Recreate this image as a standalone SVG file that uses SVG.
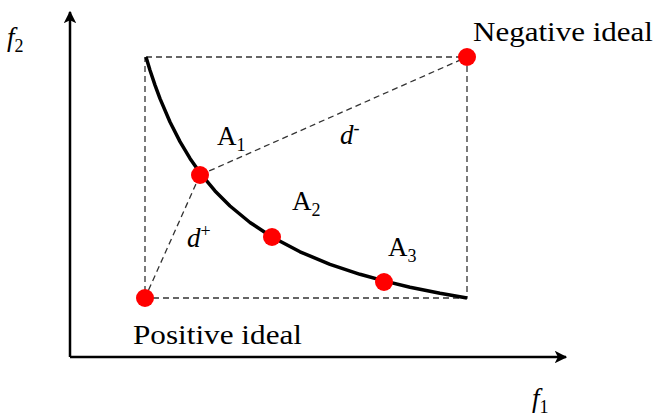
<svg xmlns="http://www.w3.org/2000/svg" width="657" height="418" viewBox="0 0 657 418">
<style>
text{font-family:"Liberation Serif","Times New Roman",serif;fill:#000}
.lbl{font-size:27px}
.it{font-style:italic}
.sub{font-size:18px}
.dash{fill:none;stroke:#333;stroke-width:1.3;stroke-dasharray:6 4}
.axis{fill:none;stroke:#000;stroke-width:2.5}
.pt{fill:#ff0000}
</style>
<defs>
<marker id="arr" viewBox="0 0 10 10" refX="9" refY="5" markerWidth="5" markerHeight="5" orient="auto" markerUnits="strokeWidth">
<path d="M0,0 L10,5 L0,10 L2.5,5 z" fill="#000"/>
</marker>
</defs>
<rect width="657" height="418" fill="#fff"/>
<g id="axes">
<line class="axis" x1="70" y1="357" x2="70" y2="12" marker-end="url(#arr)"/>
<line class="axis" x1="70" y1="357" x2="566" y2="357" marker-end="url(#arr)"/>
<text x="7" y="46" class="lbl it" font-size="30">f<tspan class="sub" font-style="normal" font-size="20" dy="6">2</tspan></text>
<text x="532" y="407" class="lbl it" font-size="30">f<tspan class="sub" font-style="normal" font-size="20" dy="6">1</tspan></text>
</g>
<g id="connectors">
<polyline class="dash" points="146,57 467,57 467,298 145,298 145,57"/>
<line class="dash" x1="200" y1="175" x2="467" y2="57"/>
<line class="dash" x1="200" y1="175" x2="145" y2="298"/>
</g>
<g id="front">
<path d="M146,57 L150,70.2 L155,85.1 L160,98.6 L170,122 L180,141.6 L190,158.4 L200,172.8 L215,190.9 L230,206 L250,222.5 L272,237 L300,251.8 L330,264.3 L360,274.3 L384,280.9 L410,287.2 L440,293.3 L467,298" fill="none" stroke="#000" stroke-width="3.5" stroke-linejoin="round"/>
</g>
<g id="negative-ideal">
<circle class="pt" cx="467" cy="57" r="9"/>
<text x="473" y="41" class="lbl" textLength="180" lengthAdjust="spacingAndGlyphs">Negative ideal</text>
</g>
<g id="positive-ideal">
<circle class="pt" cx="145" cy="298" r="9"/>
<text x="133" y="344" class="lbl" textLength="169" lengthAdjust="spacingAndGlyphs">Positive ideal</text>
</g>
<g id="A1">
<circle class="pt" cx="200" cy="175" r="9"/>
<text x="217" y="145" class="lbl">A<tspan class="sub" dy="6">1</tspan></text>
</g>
<g id="A2">
<circle class="pt" cx="272" cy="237" r="9"/>
<text x="292" y="210" class="lbl">A<tspan class="sub" dy="6">2</tspan></text>
</g>
<g id="A3">
<circle class="pt" cx="384" cy="282" r="9"/>
<text x="388" y="256" class="lbl">A<tspan class="sub" dy="6">3</tspan></text>
</g>
<g id="d-minus">
<text x="340" y="144" class="lbl it">d<tspan class="sub" font-style="normal" dy="-10">-</tspan></text>
</g>
<g id="d-plus">
<text x="187" y="247" class="lbl it">d<tspan class="sub" font-style="normal" dy="-10">+</tspan></text>
</g>
</svg>
